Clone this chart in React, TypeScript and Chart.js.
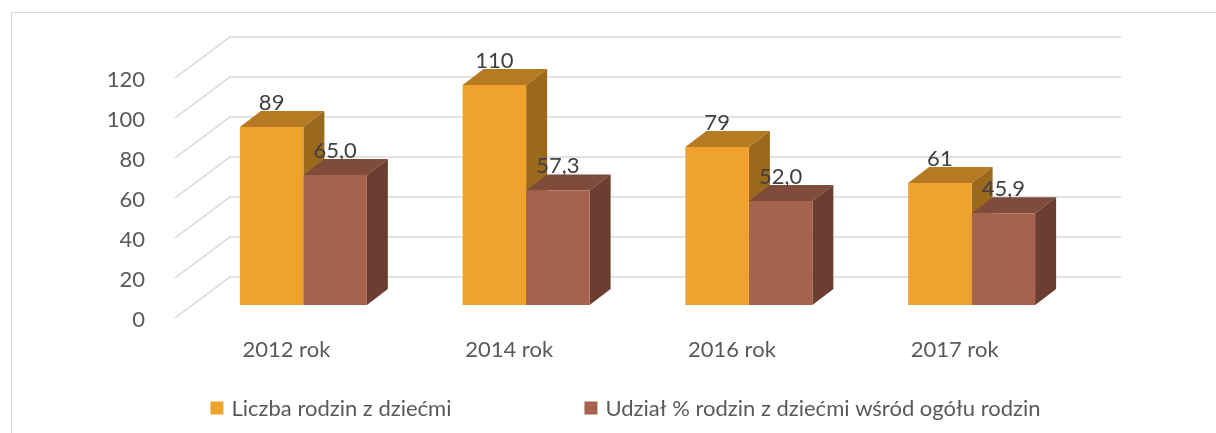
import React, { useEffect, useRef } from 'react';
import { Chart, registerables } from 'chart.js';

Chart.register(...registerables);

const categories = ['2012 rok', '2014 rok', '2016 rok', '2017 rok'];
const familiesWithChildren = [89, 110, 79, 61];
const shareOfFamilies = [65.0, 57.3, 52.0, 45.9];
const seriesNames = ['Liczba rodzin z dziećmi', 'Udział % rodzin z dziećmi wśród ogółu rodzin'];
const yMin = 0;
const yMax = 120;
const yStep = 20;

const FONT = "Lato, 'Open Sans', sans-serif";
const FONT_SIZE = 22;
const TEXT_GREY = '#595959';
const LABEL_DARK = '#404040';
const GRID = '#D9D9D9';

const frontColors = ['#F0A22E', '#A5634D'];
const topColors = ['#B67A22', '#7F4B3B'];
const sideColors = ['#9B691D', '#6B3E31'];

// pseudo-3D geometry
const DEPTH_X = 21;
const DEPTH_Y = 16;
const WALL_X = 55;
const WALL_Y = 41;
const SHIFT_X = 17;
const SHIFT_Y = 13;

const fmt = (ds: number, v: number) => (ds === 0 ? String(Math.round(v)) : v.toFixed(1).replace('.', ','));

const pseudo3d = {
  id: 'pseudo3d',
  beforeDraw(chart: any) {
    const { ctx, width, height } = chart;
    ctx.save();
    ctx.fillStyle = '#FFFFFF';
    ctx.fillRect(0, 0, width, height);
    ctx.strokeStyle = GRID;
    ctx.lineWidth = 1.2;
    ctx.beginPath();
    ctx.moveTo(11.5, height);
    ctx.lineTo(11.5, 12.5);
    ctx.lineTo(width, 12.5);
    ctx.stroke();
    ctx.restore();
  },
  beforeDatasetsDraw(chart: any) {
    const { ctx, chartArea } = chart;
    const y = chart.scales.y;
    ctx.save();
    ctx.strokeStyle = GRID;
    ctx.lineWidth = 1.5;
    y.ticks.forEach((t: any) => {
      const py = y.getPixelForValue(t.value);
      ctx.beginPath();
      ctx.moveTo(chartArea.left, py);
      ctx.lineTo(chartArea.left + WALL_X, py - WALL_Y);
      ctx.lineTo(chartArea.right + WALL_X, py - WALL_Y);
      ctx.stroke();
    });
    ctx.restore();

    ctx.save();
    ctx.translate(SHIFT_X, -SHIFT_Y);
    const n = chart.data.labels.length;
    for (let i = 0; i < n; i++) {
      chart.data.datasets.forEach((_: any, d: number) => {
        const meta = chart.getDatasetMeta(d);
        const bar = meta.data[i];
        if (!bar) return;
        const { x, y: top, base, width } = bar.getProps(['x', 'y', 'base', 'width'], true);
        const l = x - width / 2;
        const r = x + width / 2;
        ctx.fillStyle = topColors[d];
        ctx.beginPath();
        ctx.moveTo(l, top);
        ctx.lineTo(r, top);
        ctx.lineTo(r + DEPTH_X, top - DEPTH_Y);
        ctx.lineTo(l + DEPTH_X, top - DEPTH_Y);
        ctx.closePath();
        ctx.fill();
        ctx.fillStyle = sideColors[d];
        ctx.beginPath();
        ctx.moveTo(r, top);
        ctx.lineTo(r + DEPTH_X, top - DEPTH_Y);
        ctx.lineTo(r + DEPTH_X, base - DEPTH_Y);
        ctx.lineTo(r, base);
        ctx.closePath();
        ctx.fill();
      });
    }
  },
  afterDatasetsDraw(chart: any) {
    const { ctx } = chart;
    ctx.font = `${FONT_SIZE}px ${FONT}`;
    ctx.fillStyle = LABEL_DARK;
    ctx.textAlign = 'center';
    ctx.textBaseline = 'middle';
    chart.data.datasets.forEach((ds: any, d: number) => {
      const meta = chart.getDatasetMeta(d);
      meta.data.forEach((bar: any, i: number) => {
        const { x, y } = bar.getProps(['x', 'y'], true);
        ctx.fillText(fmt(d, ds.data[i]), x, y - DEPTH_Y - 8);
      });
    });
    ctx.restore();
  },
  afterDraw(chart: any) {
    const { ctx } = chart;
    ctx.save();
    ctx.font = `${FONT_SIZE}px ${FONT}`;
    ctx.textBaseline = 'middle';
    ctx.textAlign = 'left';
    const box = 13;
    const gapText = 8;
    const gapItems = 133;
    const widths = chart.data.datasets.map((ds: any) => ctx.measureText(ds.label).width);
    const total = widths.reduce((s: number, w: number) => s + w + box + gapText, 0) + gapItems * (widths.length - 1);
    let x = 625.5 - total / 2;
    const cy = 408;
    chart.data.datasets.forEach((ds: any, d: number) => {
      ctx.fillStyle = frontColors[d];
      ctx.fillRect(x, cy - box / 2, box, box);
      ctx.fillStyle = TEXT_GREY;
      ctx.fillText(ds.label, x + box + gapText, cy + 1);
      x += box + gapText + widths[d] + gapItems;
    });
    ctx.restore();
  },
};

export default function App() {
  const ref = useRef<HTMLCanvasElement | null>(null);
  useEffect(() => {
    if (!ref.current) return;
    const chart = new Chart(ref.current, {
      type: 'bar',
      data: {
        labels: categories,
        datasets: [
          { label: seriesNames[0], data: familiesWithChildren, backgroundColor: frontColors[0], borderWidth: 0, categoryPercentage: 0.57, barPercentage: 1, clip: false } as any,
          { label: seriesNames[1], data: shareOfFamilies, backgroundColor: frontColors[1], borderWidth: 0, categoryPercentage: 0.57, barPercentage: 1, clip: false } as any,
        ],
      },
      options: {
        animation: false,
        responsive: true,
        maintainAspectRatio: false,
        devicePixelRatio: 1,
        layout: { padding: { left: 0, right: 150, top: 78, bottom: 0 } },
        plugins: { legend: { display: false }, tooltip: { enabled: false } },
        scales: {
          x: {
            grid: { display: false },
            border: { display: false },
            ticks: { color: TEXT_GREY, font: { family: FONT, size: FONT_SIZE }, padding: 11, maxRotation: 0 },
            afterFit: (s: any) => { s.height = 115; },
          },
          y: {
            min: yMin,
            max: yMax,
            grid: { display: false },
            border: { display: false },
            ticks: { stepSize: yStep, color: TEXT_GREY, font: { family: FONT, size: FONT_SIZE }, padding: 22, labelOffset: 2 },
            afterFit: (s: any) => { s.width = 175; },
          },
        },
      },
      plugins: [pseudo3d],
    });
    return () => chart.destroy();
  }, []);
  return (
    <div style={{ position: 'fixed', left: 0, top: 0, width: 1216, height: 433, background: '#fff' }}>
      <canvas ref={ref} />
    </div>
  );
}
